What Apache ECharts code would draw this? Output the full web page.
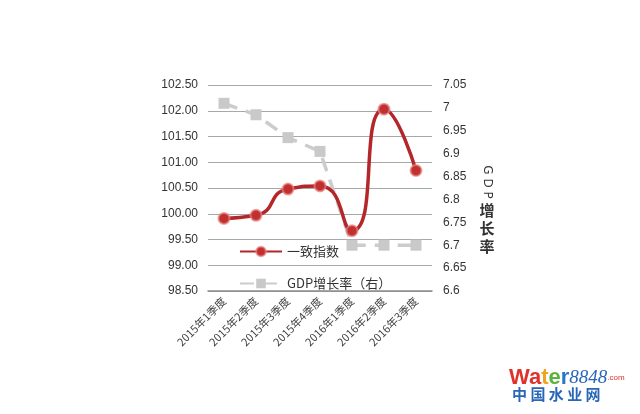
<!DOCTYPE html>
<html><head><meta charset="utf-8">
<script src="https://cdn.jsdelivr.net/npm/echarts@6/dist/echarts.min.js"></script>
<style>html,body{margin:0;padding:0;background:#fff}#c{width:640px;height:414px}</style>
</head><body><div id="c"></div>
<script>
const categories = ['2015年1季度','2015年2季度','2015年3季度','2015年4季度','2016年1季度','2016年2季度','2016年3季度'];
const indexValues = [99.91, 99.97, 100.48, 100.54, 99.67, 102.03, 100.84];
const gdpValues = [7.01, 6.985, 6.935, 6.905, 6.70, 6.70, 6.70];
const seriesNames = ['一致指数', 'GDP增长率（右）'];
const rightAxisName = 'GDP增长率';

const chart = echarts.init(document.getElementById('c'), null, {renderer:'canvas'});
chart.setOption({
  animation:false,
  backgroundColor:'#fff',
  grid:{left:208,right:208,top:85,bottom:123},
  legend:{
    orient:'vertical', left:234, top:240, itemGap:19, itemWidth:42, itemHeight:12,
    textStyle:{fontSize:13,color:'#333',fontFamily:'Noto Sans CJK SC'},
    data:seriesNames
  },
  xAxis:{
    type:'category', data:categories, boundaryGap:true,
    axisLine:{lineStyle:{color:'#8a8a8a',width:1.5}},
    axisTick:{show:false},
    axisLabel:{rotate:45,fontSize:11,color:'#444',margin:8,fontFamily:'Noto Sans CJK SC'}
  },
  yAxis:[{
    type:'value', min:98.5, max:102.5, interval:0.5,
    axisLine:{show:false}, axisTick:{show:false},
    splitLine:{lineStyle:{color:'#a8a8a8',width:1.2}},
    axisLabel:{fontSize:12,color:'#333',margin:10,formatter:v=>v.toFixed(2)}
  },{
    type:'value', min:6.6, max:7.05, interval:0.05,
    axisLine:{show:false}, axisTick:{show:false}, splitLine:{show:false},
    axisLabel:{fontSize:12,color:'#333',margin:11,formatter:v=>String(parseFloat(v.toFixed(2)))}
  }],
  series:[{
    name:seriesNames[0], type:'line', smooth:0.6, data:indexValues, yAxisIndex:0,
    symbol:'circle', symbolSize:11, z:3,
    lineStyle:{color:'#b3272b',width:3.5},
    itemStyle:{color:'#c0302f',borderColor:'rgba(232,130,130,0.7)',borderWidth:2}
  },{
    name:seriesNames[1], type:'line', data:gdpValues, yAxisIndex:1,
    symbol:'rect', symbolSize:11, z:2,
    lineStyle:{color:'#cccccc',width:3.5,type:[14,9]},
    itemStyle:{color:'#c9c9c9'}
  }],
  graphic:[
    {type:'text', x:487, y:182, rotation:-Math.PI/2, style:{text:'G D P',font:'12px "DejaVu Sans"',fill:'#333',textAlign:'center',textVerticalAlign:'middle'}},
    {type:'text', x:487, y:201, style:{text:'增\n长\n率',font:'bold 15px "Noto Sans CJK SC"',lineHeight:18,fill:'#333',textAlign:'center'}},
    {type:'text', x:509, y:367, style:{rich:{
        w:{fill:'#e0312a',font:'bold 22px "Liberation Sans"'},
        t:{fill:'#f2a31b',font:'bold 22px "Liberation Sans"'},
        e:{fill:'#5db33a',font:'bold 22px "Liberation Sans"'},
        r:{fill:'#2a76c9',font:'bold 22px "Liberation Sans"'},
        n:{fill:'#2a66b8',font:'italic 19px "Liberation Serif"'},
        c:{fill:'#e0312a',font:'8px "Liberation Sans"'}
      }, text:'{w|Wa}{t|t}{e|e}{r|r}{n|8848}{c|.com}'}},
    {type:'text', x:512, y:387, style:{text:'中 国 水 业 网',font:'bold 15px "Noto Sans CJK SC"',fill:'#2a66b8'}}
  ]
});
</script></body></html>
